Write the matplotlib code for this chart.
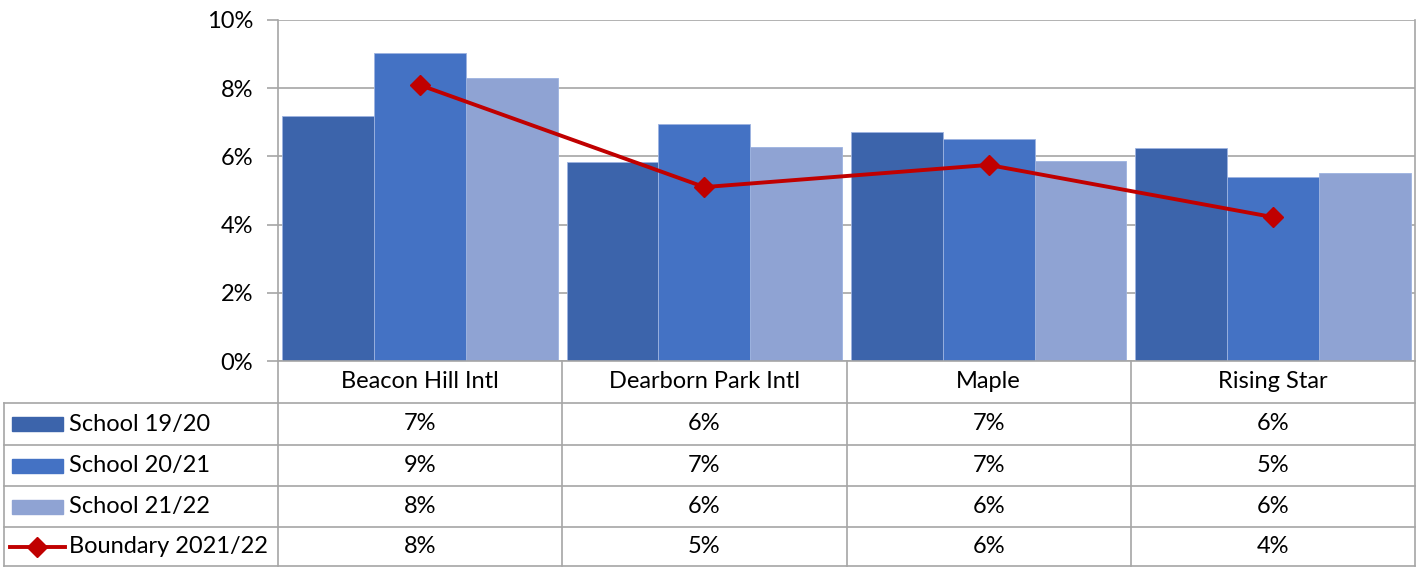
import matplotlib
matplotlib.use('Agg')
import matplotlib.pyplot as plt
import matplotlib.transforms as mtransforms
from matplotlib.lines import Line2D
from matplotlib.patches import Rectangle
import numpy as np

plt.rcParams['font.family'] = ['Lato', 'DejaVu Sans']

# data (percent)
categories = ['Beacon Hill Intl', 'Dearborn Park Intl', 'Maple', 'Rising Star']
school_1920 = [7.18, 5.83, 6.71, 6.25]
school_2021 = [9.03, 6.95, 6.51, 5.40]
school_2122 = [8.30, 6.27, 5.86, 5.51]
boundary_2122 = [8.09, 5.10, 5.75, 4.22]
yticks = [0, 2, 4, 6, 8, 10]

series = [
    ('School 19/20', school_1920, '#3C64AB'),
    ('School 20/21', school_2021, '#4472C4'),
    ('School 21/22', school_2122, '#8FA3D3'),
]
line_name = 'Boundary 2021/22'
red = '#C00000'
grid_c = '#A6A6A6'
fs = 17

W, H = 1420, 567
fig = plt.figure(figsize=(W / 100, H / 100), dpi=100)

def fx(px):
    return px / W

def fy(py):
    return 1 - py / H

left, right, top, bottom = 278, 1415, 20, 361
ax = fig.add_axes([fx(left), fy(bottom), fx(right) - fx(left), fy(top) - fy(bottom)])

x = np.arange(len(categories))
bw = 0.323
for i, (name, vals, col) in enumerate(series):
    ax.bar(x + (i - 1) * bw, vals, width=bw, color=col, edgecolor='#9DB3E0',
           linewidth=0.6, zorder=2)
ax.plot(x, boundary_2122, color=red, lw=2.8, marker='D', ms=10, zorder=3)

ax.set_xlim(-0.5, len(categories) - 0.5)
ax.set_ylim(0, 10)
ax.set_yticks(yticks)
ax.set_yticklabels(['%d%%' % v for v in yticks], fontsize=fs)
ax.set_xticks([])
ax.grid(axis='y', color=grid_c, lw=1.2, zorder=0)
ax.tick_params(axis='y', length=8, color=grid_c, width=1.2, pad=10)
for s in ['left', 'right', 'bottom']:
    ax.spines[s].set_color(grid_c)
    ax.spines[s].set_linewidth(1.2)
ax.spines['top'].set_visible(False)

# data table under the chart
tr = mtransforms.blended_transform_factory(ax.transData, fig.transFigure)
row_edges = [361, 403, 445, 486, 527, 566]
lkw = dict(color=grid_c, lw=1.2, clip_on=False)

# category row
for i, c in enumerate(categories):
    fig.text(i, fy((row_edges[0] + row_edges[1]) / 2), c, transform=tr,
             ha='center', va='center', fontsize=fs)
for b in np.arange(len(categories) + 1) - 0.5:
    fig.add_artist(Line2D([b, b], [fy(row_edges[0]), fy(row_edges[-1])], transform=tr, **lkw))

# horizontal rules
for e in row_edges[1:]:
    fig.add_artist(Line2D([fx(4), fx(right)], [fy(e), fy(e)], transform=fig.transFigure, **lkw))
fig.add_artist(Line2D([fx(4), fx(4)], [fy(row_edges[1]), fy(row_edges[-1])],
                      transform=fig.transFigure, **lkw))

rows = [(n, v, c) for n, v, c in series] + [(line_name, boundary_2122, red)]
for r, (name, vals, col) in enumerate(rows):
    yc = fy((row_edges[r + 1] + row_edges[r + 2]) / 2)
    if r < len(series):
        fig.add_artist(Rectangle((fx(12), yc - 7 / H), fx(63) - fx(12), 14 / H,
                                 color=col, transform=fig.transFigure))
    else:
        fig.add_artist(Line2D([fx(10), fx(65)], [yc, yc], color=red, lw=2.8,
                              transform=fig.transFigure))
        fig.add_artist(Line2D([fx(37)], [yc], color=red, marker='D', ms=10,
                              transform=fig.transFigure))
    fig.text(fx(69), yc, name, ha='left', va='center', fontsize=fs)
    for i, v in enumerate(vals):
        fig.text(i, yc, '%d%%' % round(v), transform=tr, ha='center', va='center', fontsize=fs)

fig.savefig('out.png', dpi=100)
